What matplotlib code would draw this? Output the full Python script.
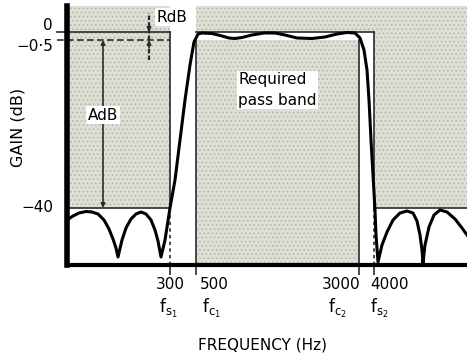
import matplotlib
matplotlib.use('Agg')
import matplotlib.pyplot as plt
import matplotlib.transforms as mtransforms

# Schematic coordinates: the original drawing is not to scale,
# so frequency and gain are placed on a drawing grid (0..400, 0..259)
freq_pos = [103, 129, 292, 307]          # fs1, fc1, fc2, fs2
freq_values = ['300', '500', '3000', '4000']
freq_names = [r'$\mathregular{f_{s_1}}$', r'$\mathregular{f_{c_1}}$',
              r'$\mathregular{f_{c_2}}$', r'$\mathregular{f_{s_2}}$']

gain_pos = [233, 225, 57]                # 0 dB, -0.5 dB, -40 dB
gain_labels = ['0', '\u22120\u00b75', '\u221240']

# filter response
resp_x = [0, 6, 12, 19, 25, 31, 37, 42, 46, 49, 51,
          55, 59, 64, 69, 74, 79, 84, 88, 91, 94,
          98, 103, 108, 113, 118, 123, 127, 131,
          135, 145, 155, 162, 168, 175, 185, 197, 208, 218, 230, 245, 258, 270, 280, 288,
          293, 297, 300, 302, 304, 306, 308, 309, 311,
          315, 320, 326, 333, 340, 346, 350, 353, 355, 356,
          358, 362, 367, 373, 380, 388, 395, 400]
resp_y = [45, 49, 52, 53.5, 53, 51, 45, 36, 26, 17, 8,
          25, 37, 46, 51, 53, 51, 45, 35, 24, 8,
          25, 57, 85, 125, 165, 200, 223, 231,
          232, 231.5, 229, 227, 226.5, 227.5, 230, 232, 232, 230, 227, 226.5, 228, 231, 232.5, 232,
          227, 215, 195, 165, 125, 90, 55, 30, 3,
          20, 33, 45, 52, 54, 52, 44, 30, 15, 2,
          20, 38, 50, 55, 53, 46, 37, 30]

X_MAX, Y_TOP = 400, 259
fs1, fc1, fc2, fs2 = freq_pos
g0, g05, g40 = gain_pos

plt.rcParams['font.family'] = 'DejaVu Sans'
plt.rcParams['hatch.linewidth'] = 0.6

fig = plt.figure(figsize=(4.67, 3.56), dpi=100)
ax = fig.add_axes([67 / 467, 91 / 356, 400 / 467, 259 / 356])
ax.set_xlim(0, X_MAX)
ax.set_ylim(0, Y_TOP)

shade = dict(facecolor='#deded4', edgecolor='#b2b2a8', hatch='....', linewidth=0, zorder=0)
ax.fill_between([0, fs1], g40, Y_TOP, **shade)
ax.fill_between([fc1, fs2], g0, Y_TOP, **shade)
ax.fill_between([fc1, fc2], 0, g05, **shade)
ax.fill_between([fs2, X_MAX], g40, Y_TOP, **shade)

mask = dict(color='#2a2a2a', lw=1.2, zorder=2)
ax.plot([-10, fs1], [g0, g0], clip_on=False, **mask)
ax.plot([-10, fs1], [g05, g05], ls=(0, (4, 2)), clip_on=False, **mask)
ax.plot([0, fs1], [g40, g40], **mask)
ax.plot([fs1, fs1], [g40, g0], **mask)
ax.plot([fs1, fs1], [0, g40], ls=(0, (2, 2)), **mask)
ax.plot([fc1, fc1], [0, g05], **mask)
ax.plot([fc2, fc2], [0, g05], **mask)
ax.plot([fc1, fs2], [g0, g0], **mask)
ax.plot([fs2, fs2], [g40, g0], **mask)
ax.plot([fs2, fs2], [0, g40], ls=(0, (2, 2)), **mask)
ax.plot([fs2, X_MAX], [g40, g40], **mask)

ax.plot(resp_x, resp_y, color='black', lw=2.2, solid_joinstyle='round', zorder=4)

# AdB and RdB markers
ax.annotate('', xy=(36, g40), xytext=(36, g05),
            arrowprops=dict(arrowstyle='<|-|>', color='#2a2a2a', lw=1.2,
                            shrinkA=0, shrinkB=0, mutation_scale=6), zorder=3)
ax.text(36, 150, 'AdB', ha='center', va='center', fontsize=11,
        bbox=dict(facecolor='white', edgecolor='none', pad=1), zorder=5)

ax.plot([82, 82], [205, 252], color='#2a2a2a', lw=1.6, ls=(0, (2, 1)), zorder=3)
ax.annotate('', xy=(82, g0), xytext=(82, g0 + 8),
            arrowprops=dict(arrowstyle='-|>', color='#2a2a2a', lw=1.2,
                            shrinkA=0, shrinkB=0, mutation_scale=6), zorder=3)
ax.annotate('', xy=(82, g05), xytext=(82, g05 - 8),
            arrowprops=dict(arrowstyle='-|>', color='#2a2a2a', lw=1.2,
                            shrinkA=0, shrinkB=0, mutation_scale=6), zorder=3)
ax.text(105, 248, 'RdB', ha='center', va='center', fontsize=11,
        bbox=dict(facecolor='white', edgecolor='none', pad=1), zorder=5)

ax.text(171, 175, 'Required\npass band', ha='left', va='center', fontsize=11,
        linespacing=1.45, bbox=dict(facecolor='white', edgecolor='none', pad=1), zorder=5)

# axes styling
for s in ['top', 'right']:
    ax.spines[s].set_visible(False)
ax.spines['left'].set_linewidth(4)
ax.spines['bottom'].set_linewidth(3)
ax.set_xticks(freq_pos, labels=[])
ax.set_yticks(gain_pos, labels=[])
ax.tick_params(axis='x', length=7, width=1.2, color='#2a2a2a')
ax.tick_params(axis='y', length=0)

label_offsets = [(-10, 5), (-10, -5), (-10, 0)]
for y, lab, off in zip(gain_pos, gain_labels, label_offsets):
    ax.annotate(lab, xy=(0, y), xycoords=('axes fraction', 'data'),
                xytext=off, textcoords='offset points',
                ha='right', va='center', fontsize=11)

# frequency labels: value on the first row, symbol on the second
trans = mtransforms.blended_transform_factory(ax.transData, ax.transAxes)
value_align = [('center', 0), ('left', 3), ('right', 1), ('left', -3)]
name_align = [('center', -1), ('left', 4), ('right', -9), ('left', -3)]
for x, val, name, va_, na_ in zip(freq_pos, freq_values, freq_names, value_align, name_align):
    ax.annotate(val, xy=(x, 0), xycoords=trans, xytext=(va_[1], -14),
                textcoords='offset points', ha=va_[0], va='center', fontsize=11)
    ax.annotate(name, xy=(x, 0), xycoords=trans, xytext=(na_[1], -31),
                textcoords='offset points', ha=na_[0], va='center', fontsize=12)

fig.text(263 / 467, 1 - 345 / 356, 'FREQUENCY (Hz)', ha='center', va='center', fontsize=11)
fig.text(18 / 467, 1 - 127 / 356, 'GAIN (dB)', ha='center', va='center',
         fontsize=11.5, rotation=90)

fig.savefig('out.png', dpi=100)
